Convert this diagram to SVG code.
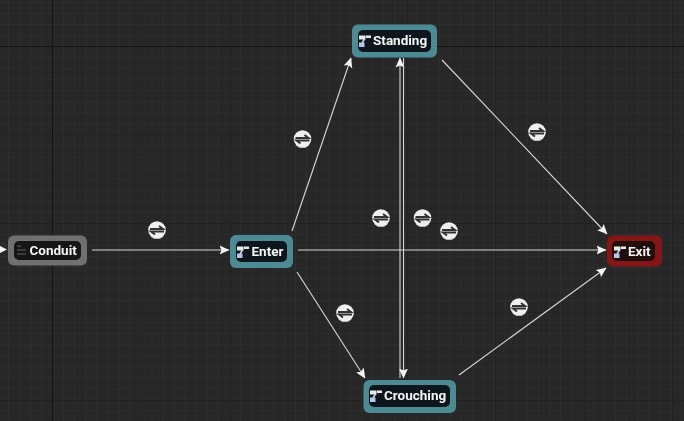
<svg xmlns="http://www.w3.org/2000/svg" width="684" height="421" viewBox="0 0 684 421">
<style>
text{font-family:"Roboto","Liberation Sans",sans-serif;font-weight:700;font-size:13.5px;fill:#f4f6f6}
.c{fill:none;stroke:#d8d8d8;stroke-width:1.1}
.o{fill:#4d8b94}
.i{fill:#10191b}
</style>
<defs>
<pattern id="g" width="11.04" height="11.04" patternUnits="userSpaceOnUse" x="8" y="2"><path d="M11.040 .5H.5V11.040" fill="none" stroke="#2e2e2e" stroke-width="1"/></pattern>
<filter id="soft" x="-5%" y="-5%" width="110%" height="110%"><feGaussianBlur stdDeviation="0.4"/></filter>
<marker id="a" viewBox="0 0 10 10" refX="9.500" refY="5" markerWidth="10" markerHeight="10" markerUnits="userSpaceOnUse" orient="auto"><path d="M0 .5L10 5L0 9.500L2 5Z" fill="#f6f6f6"/></marker>
<g id="b"><circle r="8.800" fill="#efefef"/><path d="M-6.800 6A9 9 0 0 0 6.800 6A11 11 0 0 1-6.800 6Z" fill="#bdbdbd"/><path d="M-7-1H6L2-4M7 1.500H-6L-2 4.500" fill="none" stroke="#333" stroke-width="2"/></g>
<g id="s"><rect x="-6" y="-5.500" width="6.500" height="4" fill="#eaeaea"/><rect x="1" y="-5.500" width="5" height="2.500" fill="#eaeaea"/><path d="M-.5-2L-3 2" stroke="#dcdcdc" stroke-width="1.500" fill="none"/><rect x="-6" y="1.500" width="5.500" height="4.500" fill="#b6c6f0"/></g>
</defs>
<rect width="684" height="421" fill="#272727"/>
<rect width="684" height="421" fill="url(#g)"/>
<path d="M141.500 0V421M230 0V421M318.500 0V421M407 0V421M495.500 0V421M584 0V421M672.500 0V421M0 135H684M0 223.500H684M0 312H684M0 400.500H684" stroke="#212121" stroke-width="1" fill="none"/>
<path d="M52.500 0V421M0 46.500H684" stroke="#131313" stroke-width="1" fill="none"/>
<g filter="url(#soft)">
<g id="connectors">
<path class="c" d="M92 250H229" marker-end="url(#a)"/>
<path class="c" d="M292 231L351 58" marker-end="url(#a)"/>
<path class="c" d="M297 272L365 378" marker-end="url(#a)"/>
<path class="c" d="M298 250H606" marker-end="url(#a)"/>
<path class="c" d="M442 60L607 234" marker-end="url(#a)"/>
<path class="c" d="M459 375L606 268" marker-end="url(#a)"/>
<path class="c" d="M400 378V58" marker-end="url(#a)"/>
<path class="c" d="M403.500 58V378" marker-end="url(#a)"/>
<path d="M0 246L7 249.500L0 253Z" fill="#f4f4f4"/>
<use href="#b" x="157" y="230"/>
<use href="#b" x="302.500" y="139"/>
<use href="#b" x="345" y="313"/>
<use href="#b" x="381" y="218"/>
<use href="#b" x="422.500" y="218"/>
<use href="#b" x="449" y="231"/>
<use href="#b" x="537" y="132"/>
<use href="#b" x="519" y="307"/>
</g>
<g id="conduit">
<rect x="8" y="235.500" width="79" height="30" rx="6" fill="#707070"/>
<rect x="14" y="241" width="67" height="19" rx="5" fill="#121212"/>
<path d="M17 246H21M17 250H26M17 254H26" stroke="#4a4a4a" stroke-width="1.500" fill="none"/>
<text x="29.500" y="255">Conduit</text>
</g>
<g id="enter">
<rect class="o" x="230" y="235" width="63" height="33" rx="6"/>
<rect class="i" x="236" y="241" width="51" height="21" rx="5"/>
<use href="#s" x="243" y="252"/>
<text x="251.500" y="256">Enter</text>
</g>
<g id="standing">
<rect class="o" x="352" y="24.500" width="85" height="33" rx="6"/>
<rect class="i" x="358" y="30" width="73" height="22" rx="5"/>
<use href="#s" x="365" y="41"/>
<text x="373" y="45">Standing</text>
</g>
<g id="crouching">
<rect class="o" x="363.500" y="380" width="92.500" height="33" rx="6"/>
<rect class="i" x="369" y="385" width="81" height="22" rx="5"/>
<use href="#s" x="376" y="396"/>
<text x="384" y="400">Crouching</text>
</g>
<g id="exit">
<rect x="607" y="235.500" width="55" height="31" rx="6" fill="#851616"/>
<rect x="612" y="241" width="43" height="20" rx="5" fill="#221010"/>
<use href="#s" x="620" y="252"/>
<text x="628" y="256">Exit</text>
</g>
</g>
</svg>
